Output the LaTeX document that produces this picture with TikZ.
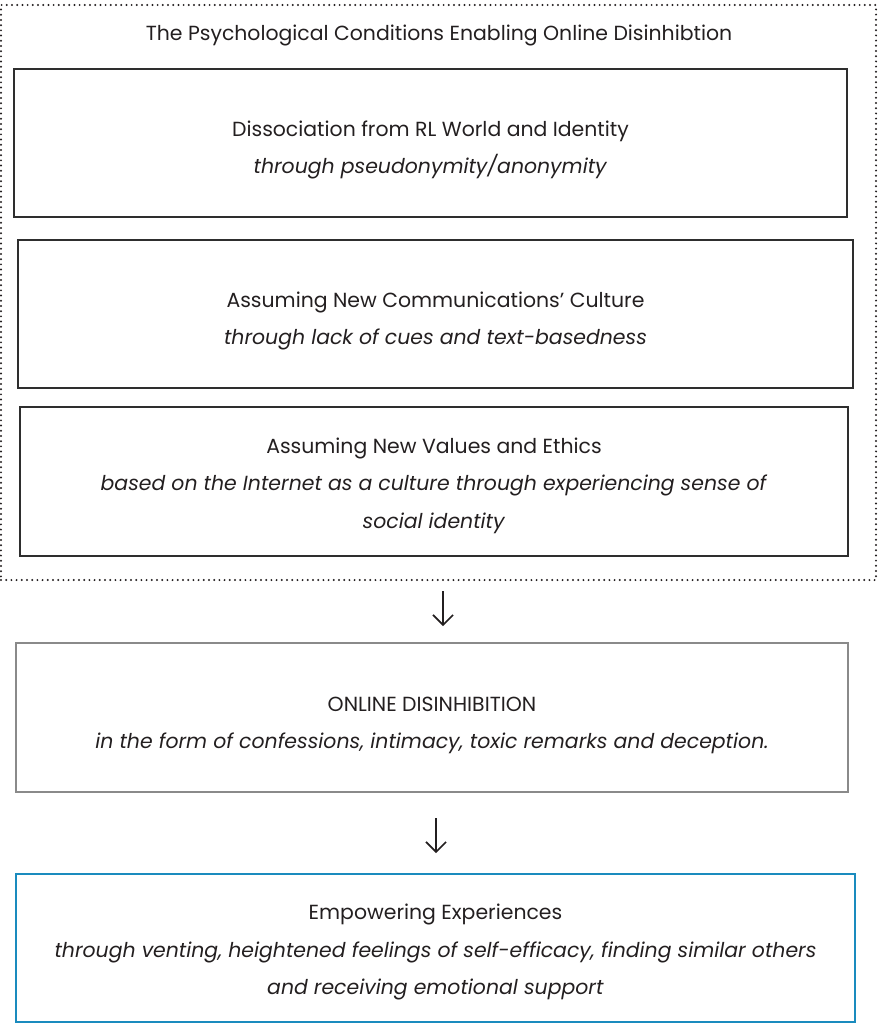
\documentclass[tikz,border=0pt]{standalone}
\usepackage{fontspec}
\setmainfont{Poppins}
\usetikzlibrary{arrows.meta}
\definecolor{boxdark}{HTML}{2E2E2E}
\definecolor{boxgray}{HTML}{8A8A8A}
\definecolor{boxblue}{HTML}{1A8BBE}
\definecolor{textdark}{HTML}{231F20}
\begin{document}
\begin{tikzpicture}[x=1bp,y=-1bp,
  outerbox/.style={draw=textdark, line width=2.2bp, line cap=round, dash pattern=on 0bp off 5.2bp, inner sep=0pt},
  darkbox/.style={draw=boxdark, line width=2.6bp, inner sep=0pt, text=textdark, align=center, font=\fontsize{20.5}{37.5}\selectfont},
  graybox/.style={darkbox, draw=boxgray},
  bluebox/.style={darkbox, draw=boxblue},
  titletext/.style={text=textdark, font=\fontsize{20.5}{24}\selectfont},
  flowarrow/.style={draw=textdark, line width=1.6bp, -{Straight Barb[length=10bp, width=20bp, line width=1.6bp]}}
]
\useasboundingbox (0,0) rectangle (879,1023);
\node[outerbox, minimum width=875bp, minimum height=575bp] (outer) at (438.5,292.5) {};
\node[titletext] (title) at (439,35) {The Psychological Conditions Enabling Online Disinhibtion};
\node[darkbox, minimum width=833bp, minimum height=148bp] (b1) at (430.5,143)
  {\rule{0pt}{30bp}Dissociation from RL World and Identity\\ \textit{through pseudonymity/anonymity}};
\node[darkbox, minimum width=835bp, minimum height=148bp] (b2) at (435.5,314)
  {\rule{0pt}{30bp}Assuming New Communications’ Culture\\ \textit{through lack of cues and text-basedness}};
\node[darkbox, minimum width=828bp, minimum height=149bp] (b3) at (434,481.5)
  {\rule{0pt}{24bp}Assuming New Values and Ethics\\ \textit{based on the Internet as a culture through experiencing sense of}\\ \textit{social identity}};
\node[graybox, minimum width=832bp, minimum height=149bp] (b4) at (432,717.5)
  {\rule{0pt}{30bp}ONLINE DISINHIBITION\\ \textit{in the form of confessions, intimacy, toxic remarks and deception.}};
\node[bluebox, minimum width=839bp, minimum height=148bp] (b5) at (435.5,948)
  {\rule{0pt}{24bp}Empowering Experiences\\ \textit{through venting, heightened feelings of self-efficacy, finding similar others}\\ \textit{and receiving emotional support}};
\coordinate (a1s) at (443,591);
\coordinate (a1e) at (443,626);
\coordinate (a2s) at (436,818);
\coordinate (a2e) at (436,853);
\draw[flowarrow] (a1s) -- (a1e);
\draw[flowarrow] (a2s) -- (a2e);
\end{tikzpicture}
\end{document}
